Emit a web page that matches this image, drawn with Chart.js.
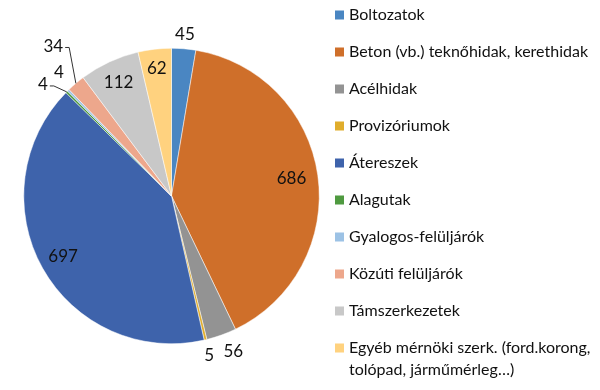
<!DOCTYPE html>
<html>
<head>
<meta charset="utf-8">
<script src="https://cdn.jsdelivr.net/npm/chart.js@4"></script>
<style>
  html, body { margin: 0; padding: 0; background: #fff; }
  #wrap { width: 600px; height: 390px; position: relative; }
</style>
</head>
<body>
<div id="wrap"><canvas id="grafico" width="600" height="390"></canvas></div>
<script>
// adatok
const kategoriak = [
    'Boltozatok',
    'Beton (vb.) teknőhidak, kerethidak',
    'Acélhidak',
    'Provizóriumok',
    'Átereszek',
    'Alagutak',
    'Gyalogos-felüljárók',
    'Közúti felüljárók',
    'Támszerkezetek',
    ['Egyéb mérnöki szerk. (ford.korong,', 'tolópad, járműmérleg…)']
];
const darabszam = [45, 686, 56, 5, 697, 4, 4, 34, 112, 62];
const szinek = ['#4a86c2', '#cf6f2a', '#939393', '#e0ad2c', '#3e63ab', '#4f9a40', '#9cc2e5', '#eda78c', '#c8c8c8', '#ffd27f'];

// címkék elhelyezése: sugár szorzó, szög eltolás (fok), vezetővonal
const cimkeHely = [
    { f: 1.10, da: 0, vonal: false },
    { f: 0.82, da: 0, vonal: false },
    { f: 1.13, da: -2, vonal: false },
    { f: 1.11, da: 0, vonal: false },
    { f: 0.84, da: 0, vonal: false },
    { f: 1.15, da: -4, vonal: true },
    { f: 1.13, da: 2, vonal: false },
    { f: 1.29, da: 2, vonal: true },
    { f: 0.85, da: 0, vonal: false },
    { f: 0.87, da: 0, vonal: false }
];

const betu = 'Lato, "Open Sans", sans-serif';

const cimkek = {
    id: 'cimkek',
    afterDraw(chart) {
        const ctx = chart.ctx;
        const elemek = chart.getDatasetMeta(0).data;
        ctx.save();
        ctx.font = '17px ' + betu;
        ctx.fillStyle = '#111';
        ctx.textAlign = 'center';
        ctx.textBaseline = 'middle';
        elemek.forEach((arc, i) => {
            const h = cimkeHely[i];
            const mid = (arc.startAngle + arc.endAngle) / 2;
            const a = mid + h.da * Math.PI / 180;
            const r = arc.outerRadius;
            const x = arc.x + Math.cos(a) * r * h.f;
            const y = arc.y + Math.sin(a) * r * h.f;
            const szoveg = String(darabszam[i]);
            ctx.fillText(szoveg, x, y);
            if (h.vonal) {
                const w = ctx.measureText(szoveg).width;
                const ex = arc.x + Math.cos(mid) * r;
                const ey = arc.y + Math.sin(mid) * r;
                ctx.strokeStyle = '#333';
                ctx.lineWidth = 1;
                ctx.beginPath();
                ctx.moveTo(x + w / 2 + 2, y + 1);
                ctx.lineTo(x + w / 2 + 6, y + 1);
                ctx.lineTo(ex, ey);
                ctx.stroke();
            }
        });

        // jelmagyarázat
        ctx.font = '16px ' + betu;
        ctx.textAlign = 'left';
        kategoriak.forEach((k, i) => {
            const y = 15 + i * 37;
            ctx.fillStyle = szinek[i];
            ctx.fillRect(335, y - 4.5, 9, 9);
            ctx.fillStyle = '#111';
            const sorok = Array.isArray(k) ? k : [k];
            sorok.forEach((s, j) => ctx.fillText(s, 349, y + j * 22));
        });
        ctx.restore();
    }
};

new Chart(document.getElementById('grafico').getContext('2d'), {
    type: 'pie',
    data: {
        labels: kategoriak,
        datasets: [{
            data: darabszam,
            backgroundColor: szinek,
            borderColor: '#fff',
            borderWidth: 0.5
        }]
    },
    options: {
        responsive: false,
        animation: false,
        layout: { padding: { left: 23, right: 280, top: 48, bottom: 46 } },
        plugins: {
            legend: { display: false },
            tooltip: { enabled: false }
        }
    },
    plugins: [cimkek]
});
</script>
</body>
</html>
